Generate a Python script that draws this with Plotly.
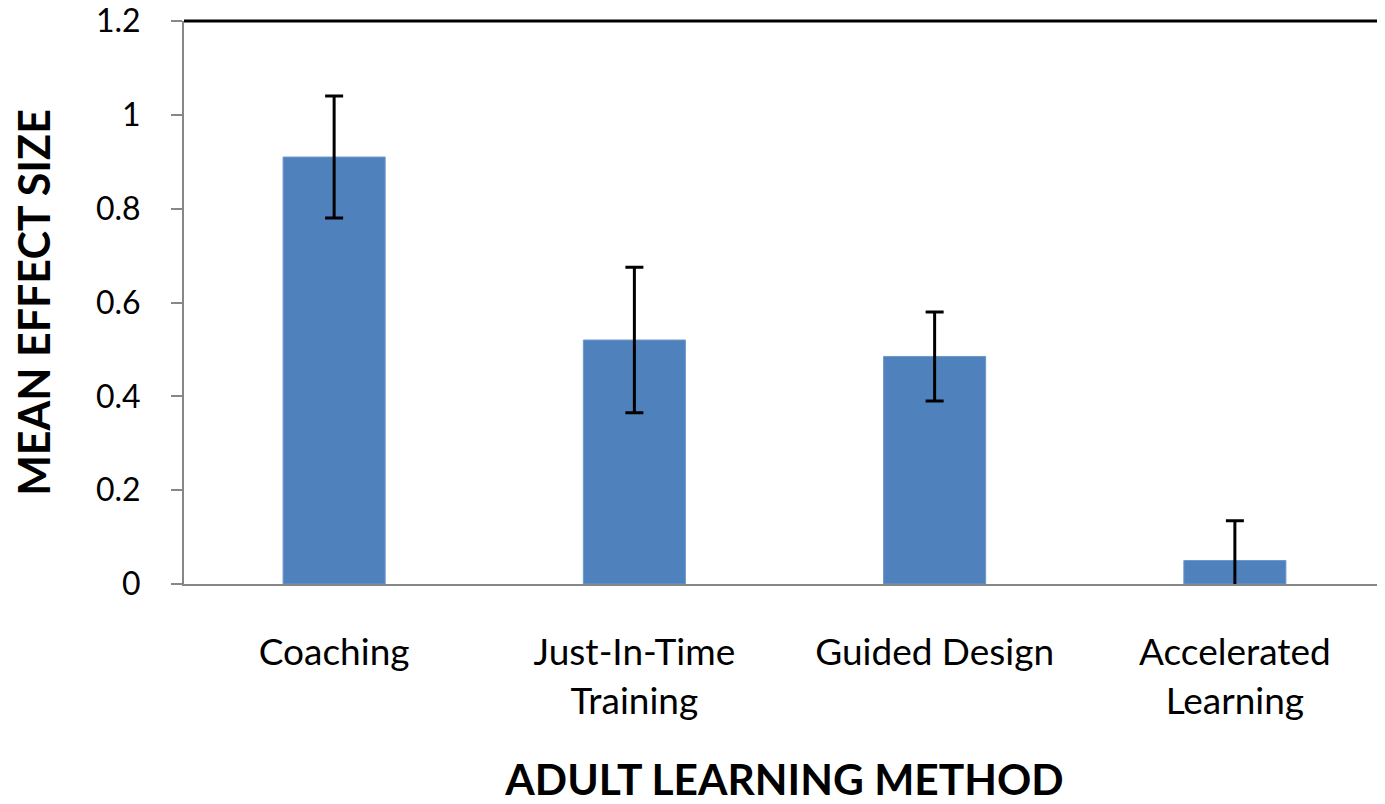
import plotly.graph_objects as go

categories = ["Coaching", "Just-In-Time<br>Training", "Guided Design", "Accelerated<br>Learning"]
mean_effect = [0.91, 0.52, 0.485, 0.05]
error_margin = [0.13, 0.155, 0.095, 0.085]
y_ticks = [0, 0.2, 0.4, 0.6, 0.8, 1, 1.2]
y_tick_labels = ["0", "0.2", "0.4", "0.6", "0.8", "1", "1.2"]

FONT = "Lato"

fig = go.Figure()
fig.add_trace(go.Bar(
    x=categories,
    y=mean_effect,
    width=0.34,
    marker=dict(color="#4F81BD", line=dict(color="#6E98CC", width=1)),
    error_y=dict(type="data", array=error_margin, visible=True,
                 color="black", thickness=3, width=9),
))

fig.add_shape(type="line", xref="paper", yref="paper", x0=0, x1=1, y0=1, y1=1,
              line=dict(color="black", width=3))

fig.update_layout(
    width=1377, height=796,
    margin=dict(l=176, r=0, t=13, b=220),
    plot_bgcolor="white", paper_bgcolor="white",
    showlegend=False,
    font=dict(family=FONT, color="black", size=37),
    xaxis=dict(
        automargin=False,
        showline=True, linecolor="#878787", linewidth=2,
        ticks="outside", ticklen=35, tickcolor="rgba(0,0,0,0)",
        tickfont=dict(family=FONT, size=37, color="black"),
        title=dict(text="<b>ADULT LEARNING METHOD</b>", font=dict(family=FONT, size=42.5, color="black"), standoff=54),
        range=[-0.5, 3.5],
    ),
    yaxis=dict(
        automargin=False,
        range=[0, 1.2], tickvals=y_ticks, ticktext=y_tick_labels,
        showline=True, linecolor="#878787", linewidth=2,
        ticks="outside", ticklen=11, tickcolor="#878787", tickwidth=2,
        ticklabelstandoff=24, ticklabeloverflow="allow",
        showgrid=False, zeroline=False,
        tickfont=dict(family=FONT, size=32, color="black"),
        title=dict(text="<b>MEAN EFFECT SIZE</b>", font=dict(family=FONT, size=43, color="black"), standoff=71),
    ),
)

fig.write_html("out.html")
